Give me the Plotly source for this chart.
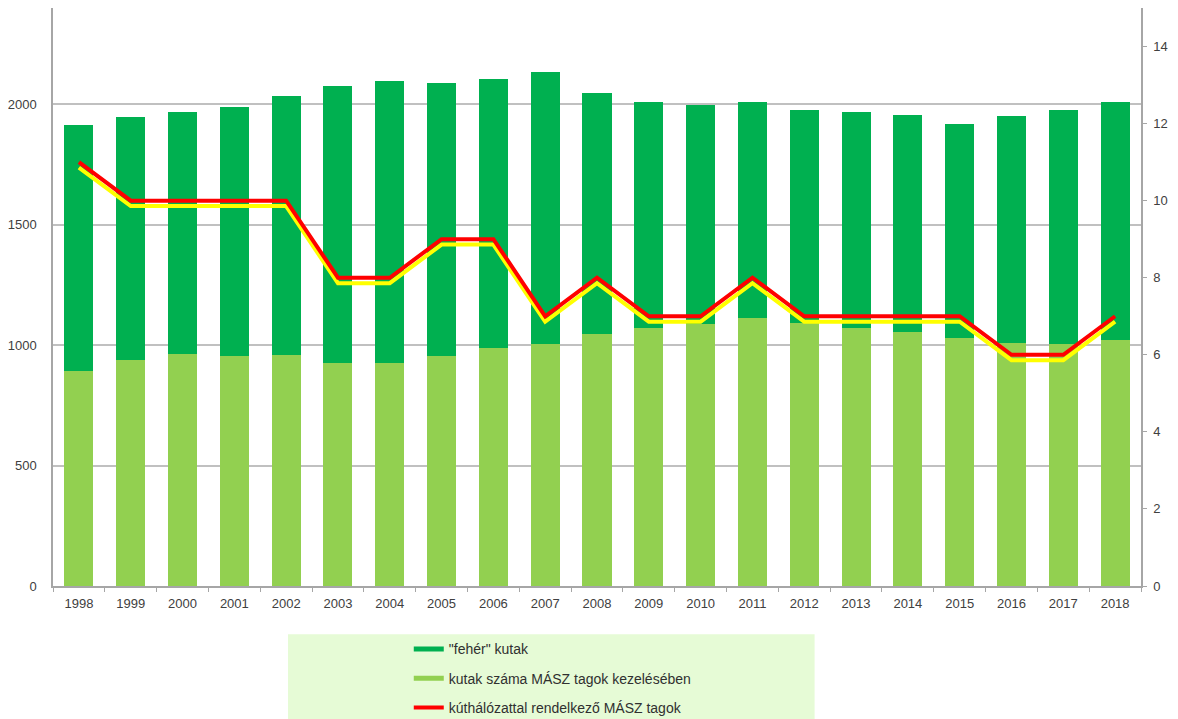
import plotly.graph_objects as go

years = [str(y) for y in range(1998, 2019)]
kutak_masz = [893, 938, 963, 954, 960, 927, 927, 954, 989, 1005, 1046, 1072, 1087, 1112, 1090, 1073, 1056, 1029, 1007, 1005, 1021]
kutak_osszes = [1915, 1948, 1967, 1987, 2034, 2078, 2098, 2089, 2107, 2136, 2048, 2008, 1997, 2008, 1978, 1968, 1957, 1918, 1950, 1978, 2009]
feher_kutak = [t - m for t, m in zip(kutak_osszes, kutak_masz)]
kuthalozat_tagok = [11, 10, 10, 10, 10, 8, 8, 9, 9, 7, 8, 7, 7, 8, 7, 7, 7, 7, 6, 6, 7]

names = ['"fehér" kutak', 'kutak száma MÁSZ tagok kezelésében', 'kúthálózattal rendelkező MÁSZ tagok']
DARK = "#00b050"
LIGHT = "#92d050"
RED = "#ff0000"
YELLOW = "#ffff00"
SHADOW = 0.14  # visual offset of the yellow shadow line (secondary-axis units)

fig = go.Figure()
fig.add_trace(go.Bar(x=years, y=kutak_masz, marker=dict(color=LIGHT, line=dict(width=0)),
                     showlegend=False, yaxis="y"))
fig.add_trace(go.Bar(x=years, y=feher_kutak, marker=dict(color=DARK, line=dict(width=0)),
                     showlegend=False, yaxis="y"))
fig.add_trace(go.Scatter(x=years, y=[v - SHADOW for v in kuthalozat_tagok], mode="lines",
                         line=dict(color=YELLOW, width=4), showlegend=False, yaxis="y2"))
fig.add_trace(go.Scatter(x=years, y=kuthalozat_tagok, mode="lines",
                         line=dict(color=RED, width=4), showlegend=False, yaxis="y2"))

# legend entries
for nm, col, g in zip(names, [DARK, LIGHT, RED], ["a", "b", "c"]):
    fig.add_trace(go.Scatter(x=[None], y=[None], mode="lines", name=nm, legendgroup=g,
                             line=dict(color=col, width=5 if col != RED else 4), yaxis="y2"))

fig.update_layout(
    width=1170, height=711,
    margin=dict(l=45, r=37, t=0, b=133, autoexpand=False),
    paper_bgcolor="white", plot_bgcolor="white",
    barmode="stack", bargap=0.44,
    font=dict(family="Liberation Sans, Arial, sans-serif", size=13, color="#404040"),
    xaxis=dict(type="category", showline=True, linecolor="#a6a6a6", linewidth=1.5,
               ticks="outside", tickson="boundaries", ticklen=4, tickcolor="#a6a6a6",
               ticklabelstandoff=5,
               showgrid=False, automargin=False, tickfont=dict(size=13, color="#404040")),
    yaxis=dict(range=[0, 2400], tickvals=[0, 500, 1000, 1500, 2000], showgrid=True,
               gridcolor="#c0c0c0", gridwidth=1.5, showline=True, linecolor="#a6a6a6",
               linewidth=1.5, ticks="", ticklabelstandoff=12, zeroline=False, automargin=False,
               tickfont=dict(size=13, color="#404040")),
    yaxis2=dict(range=[0, 15], tickvals=[0, 2, 4, 6, 8, 10, 12, 14], overlaying="y", side="right",
                showgrid=False, showline=True, linecolor="#a6a6a6", linewidth=1.5,
                ticks="outside", ticklen=4, tickcolor="#a6a6a6", zeroline=False, automargin=False,
                ticklabelstandoff=4,
                tickfont=dict(size=13, color="#404040")),
    legend=dict(x=0.327, y=-0.082, xanchor="left", yanchor="top", bgcolor="rgba(0,0,0,0)",
                tracegroupgap=8, font=dict(size=14, color="#303030"), itemwidth=30),
    shapes=[dict(type="rect", xref="paper", yref="paper", x0=0.216, x1=0.700, y0=-0.25, y1=-0.0835,
                 fillcolor="#e6fbd6", line=dict(width=0), layer="below")],
)

fig.write_html("out.html")
